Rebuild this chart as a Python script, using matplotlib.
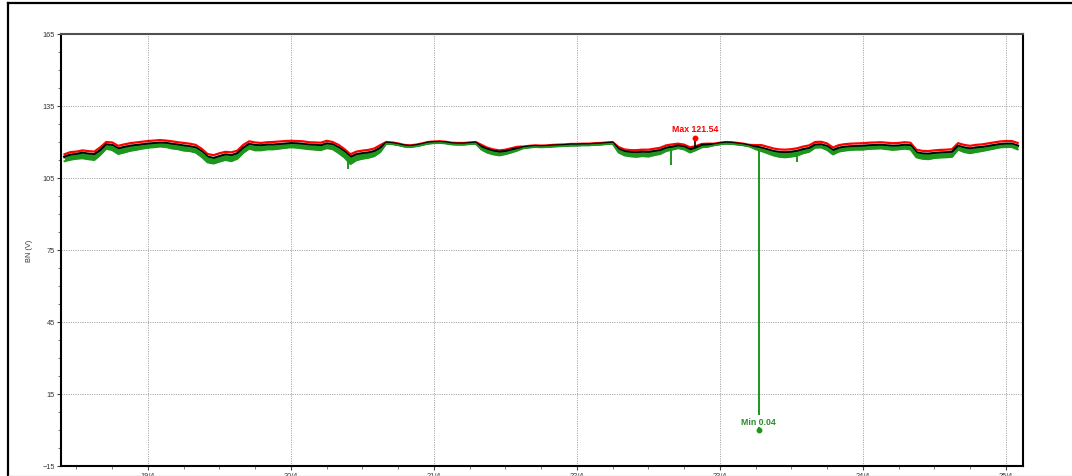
import numpy as np
import matplotlib
matplotlib.use("Agg")
import matplotlib.pyplot as plt
from matplotlib.lines import Line2D
from matplotlib.ticker import MultipleLocator, FixedLocator, FixedFormatter

plt.rcParams['font.family'] = ['Liberation Sans', 'DejaVu Sans']

# Hourly readings, 18/4 10:00 .. 25/4 02:00 (hours relative to 19/4 00:00)
hour_start, hour_end = -14, 146

bn_avg = [
    113.8, 114.6, 114.9, 115.4, 115.0, 114.8, 116.5, 118.9, 118.6, 117.2, 117.8, 118.3, 118.6, 118.9,
    119.2, 119.4, 119.6, 119.5, 119.1, 118.8, 118.4, 118.1, 117.6, 116.0, 113.8, 113.2, 114.0, 114.7, 114.4, 115.2, 117.5, 119.1, 118.6, 118.5, 118.8, 118.8, 119.0, 119.2,
    119.4, 119.3, 119.1, 118.8, 118.7, 118.5, 119.3, 118.9, 117.6, 115.9, 113.7, 114.8, 115.2, 115.5, 116.1, 117.5, 119.6, 119.4, 119.0, 118.4, 118.2, 118.5, 119.0, 119.6,
    119.8, 119.9, 119.7, 119.3, 119.2, 119.2, 119.4, 119.6, 117.9, 116.9, 116.2, 115.8, 116.1, 116.7, 117.3, 117.7, 118.0, 118.2, 118.1, 118.2, 118.4, 118.5, 118.6, 118.8,
    118.8, 118.9, 118.9, 119.1, 119.2, 119.4, 119.6, 117.0, 116.0, 115.7, 115.6, 115.8, 115.7, 116.1, 116.5, 117.5, 117.9, 118.4, 118.0, 116.8, 117.6, 118.7, 118.8, 118.9,
    119.3, 119.6, 119.5, 119.2, 118.9, 118.4, 118.0, 117.5, 116.8, 116.1, 115.7, 115.6, 115.8, 116.2, 116.9, 117.4, 118.8, 118.9, 118.2, 116.5, 117.5, 117.9, 118.1, 118.2,
    118.3, 118.5, 118.6, 118.7, 118.5, 118.3, 118.4, 118.7, 118.5, 115.6, 115.1, 115.0, 115.3, 115.5, 115.6, 115.8, 118.3, 117.6, 117.2, 117.6, 117.8, 118.2, 118.6, 119.0, 119.2, 119.2, 118.4,
]

bn_max = [
    114.9, 115.8, 116.0, 116.5, 116.2, 116.0, 117.8, 120.0, 119.8, 118.4, 119.0, 119.5, 119.8, 120.1,
    120.4, 120.6, 120.8, 120.6, 120.3, 119.9, 119.6, 119.3, 118.8, 117.2, 115.0, 114.5, 115.3, 115.9, 115.7, 116.4, 118.8, 120.3, 119.8, 119.6, 119.9, 120.0, 120.2, 120.4,
    120.5, 120.4, 120.3, 119.9, 119.8, 119.7, 120.5, 120.0, 118.8, 117.0, 114.9, 116.0, 116.4, 116.7, 117.3, 118.7, 120.0, 119.8, 119.4, 118.8, 118.6, 118.9, 119.4, 120.0,
    120.2, 120.3, 120.1, 119.7, 119.6, 119.6, 119.8, 120.0, 118.8, 117.6, 116.9, 116.5, 116.8, 117.4, 118.0, 118.1, 118.4, 118.6, 118.5, 118.6, 118.8, 118.9, 119.0, 119.2,
    119.2, 119.3, 119.3, 119.5, 119.6, 119.8, 120.0, 117.9, 116.9, 116.6, 116.6, 116.8, 116.8, 117.2, 117.6, 118.6, 119.0, 119.3, 118.9, 117.8, 118.3, 119.2, 119.3, 119.3,
    119.7, 120.0, 119.9, 119.6, 119.3, 118.8, 118.7, 118.7, 118.0, 117.3, 116.9, 116.8, 117.0, 117.4, 118.1, 118.6, 120.0, 120.1, 119.4, 117.7, 118.7, 119.1, 119.3, 119.4,
    119.5, 119.7, 119.8, 119.9, 119.7, 119.5, 119.6, 119.9, 119.7, 116.8, 116.3, 116.2, 116.5, 116.7, 116.8, 117.0, 119.5, 118.8, 118.4, 118.8, 119.0, 119.4, 119.8, 120.2, 120.4, 120.4, 119.6,
]

bn_min = [
    112.0, 112.6, 113.0, 113.2, 112.8, 112.5, 114.6, 117.2, 116.6, 115.0, 115.6, 116.3, 116.7, 117.2,
    117.6, 117.8, 118.1, 117.9, 117.3, 117.0, 116.4, 116.2, 115.6, 113.8, 111.5, 111.0, 111.8, 112.5, 112.0, 113.0, 115.5, 117.2, 116.5, 116.5, 116.9, 116.9, 117.2, 117.5,
    117.8, 117.6, 117.3, 117.0, 116.8, 116.6, 117.4, 117.0, 115.4, 113.5, 110.8, 112.4, 113.0, 113.4, 114.1, 115.8, 119.3, 119.1, 118.7, 118.1, 117.9, 118.2, 118.7, 119.3,
    119.5, 119.6, 119.4, 119.0, 118.9, 118.9, 119.1, 119.3, 116.8, 115.5, 114.8, 114.4, 114.9, 115.6, 116.4, 117.4, 117.7, 117.9, 117.8, 117.9, 118.1, 118.2, 118.3, 118.5,
    118.5, 118.6, 118.6, 118.8, 118.9, 119.1, 119.3, 115.6, 114.4, 114.0, 113.8, 114.1, 113.9, 114.5, 115.0, 116.2, 116.8, 117.4, 116.9, 115.6, 116.6, 117.8, 118.0, 118.6,
    119.0, 119.3, 119.2, 118.9, 118.6, 118.1, 117.0, 116.2, 115.3, 114.4, 113.8, 113.6, 113.9, 114.3, 115.3, 115.9, 117.6, 117.7, 116.7, 114.8, 116.0, 116.4, 116.7, 116.8,
    116.8, 117.1, 117.2, 117.3, 117.0, 116.7, 116.9, 117.2, 116.9, 113.6, 113.0, 112.8, 113.3, 113.5, 113.6, 113.8, 116.8, 115.8, 115.3, 115.8, 116.2, 116.7, 117.2, 117.7, 117.9, 117.9, 116.9,
]

# Short dips in the minimum trace (hour, lowest value, level before the dip)
min_dip_hour = [33.6, 87.8, 102.55, 108.9]
min_dip_low = [108.8, 110.4, 0.04, 111.5]
min_dip_top = [114.0, 117.0, 117.5, 115.8]

# Extremes of the period
max_hour, max_value, max_base = 91.8, 121.54, 116.8
min_hour, min_value = 102.55, 0.04

day_ticks = [19, 20, 21, 22, 23, 24, 25]
day_labels = ["19/4", "20/4", "21/4", "22/4", "23/4", "24/4", "25/4"]
y_ticks = [-15, 15, 45, 75, 105, 135, 165]

RED = "#ff0000"
GREEN = "#1e961e"
LABEL_GREEN = "#2a8c2a"

hours = np.arange(hour_start, hour_end + 1)
days = 19 + hours / 24.0

W, H = 1072, 477
fig = plt.figure(figsize=(W / 100, H / 100), dpi=100)
fig.patch.set_facecolor("white")
ax = fig.add_axes([61 / W, 1 - 467 / H, (1023 - 61) / W, (467 - 35) / H])

# max trace, average trace, then the min band drawn over the lower edge
ax.plot(days, bn_max, color=RED, lw=1.6, zorder=3)
ax.plot(days, bn_avg, color="black", lw=2.0, zorder=4)
ax.fill_between(days, bn_min, bn_avg, color=GREEN, lw=0, zorder=5)
ax.plot(days, bn_min, color=GREEN, lw=1.4, zorder=5)
ax.vlines(19 + np.array(min_dip_hour) / 24.0, min_dip_low, min_dip_top,
          color=GREEN, lw=1.4, zorder=5)
ax.vlines(19 + max_hour / 24.0, max_base, max_value, color="black", lw=1.2, zorder=4)

# Extreme markers and labels
mx = 19 + max_hour / 24.0
ax.plot([mx], [max_value], "o", color=RED, ms=3.2, zorder=7)
ax.annotate(f"Max {max_value:.2f}", (mx, max_value), xytext=(0, 3.5),
            textcoords="offset points", ha="center", va="bottom",
            fontsize=6.3, fontweight="bold", color=RED, zorder=8,
            bbox=dict(boxstyle="square,pad=0.1", fc="white", ec="none"))
nx = 19 + min_hour / 24.0
ax.plot([nx], [min_value], "o", color=GREEN, ms=3.2, zorder=7)
ax.annotate(f"Min {min_value:.2f}", (nx, min_value), xytext=(0, 3.0),
            textcoords="offset points", ha="center", va="bottom",
            fontsize=6.3, fontweight="bold", color=LABEL_GREEN, zorder=8,
            bbox=dict(boxstyle="square,pad=0.15", fc="white", ec="none"))

ax.set_xlim(19 - 14.6 / 24, 19 + 146.9 / 24)
ax.set_ylim(-15, 165)

ax.xaxis.set_major_locator(FixedLocator(day_ticks))
ax.xaxis.set_major_formatter(FixedFormatter(day_labels))
ax.xaxis.set_minor_locator(MultipleLocator(0.25))
ax.yaxis.set_major_locator(FixedLocator(y_ticks))
ax.yaxis.set_minor_locator(MultipleLocator(7.5))

ax.tick_params(axis="both", which="major", length=3, width=0.8, color="#444444",
               labelsize=5.3, labelcolor="#333333", pad=1.5)
ax.tick_params(axis="both", which="minor", length=2, width=0.6, color="#666666")

ax.grid(True, which="major", color="#a8a8a8", lw=0.7, linestyle=(0, (1.2, 1.2)))
ax.set_axisbelow(True)

for side in ("left", "bottom", "right"):
    ax.spines[side].set_linewidth(1.5)
    ax.spines[side].set_color("black")
ax.spines["top"].set_linewidth(1.5)
ax.spines["top"].set_color("#505050")

ax.set_ylabel("BN (V)", fontsize=5.3, color="#333333")
ax.yaxis.set_label_coords(-28 / (1023 - 61), 0.5)

# Outer panel frame
fig.add_artist(Line2D([7.5 / W, 7.5 / W], [0, 1 - 4 / H], transform=fig.transFigure,
                      color="black", lw=1.6))
fig.add_artist(Line2D([7.5 / W, 1], [1 - 4 / H, 1 - 4 / H], transform=fig.transFigure,
                      color="black", lw=1.6))
fig.add_artist(Line2D([8 / W, 1], [0.5 / H, 0.5 / H], transform=fig.transFigure,
                      color="#c8c8c8", lw=1.0))

fig.savefig("out.png", dpi=100, facecolor="white")
